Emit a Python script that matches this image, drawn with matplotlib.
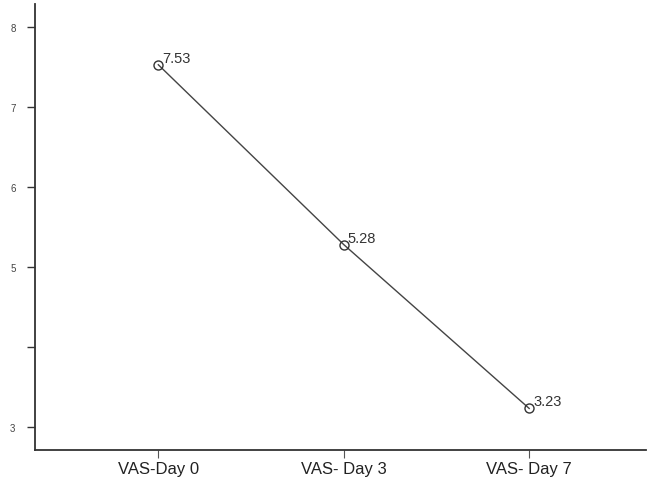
import matplotlib
matplotlib.use("Agg")
import matplotlib.pyplot as plt

categories = ["VAS-Day 0", "VAS- Day 3", "VAS- Day 7"]
values = [7.53, 5.28, 3.23]
value_labels = ["7.53", "5.28", "3.23"]
ytick_vals = [3, 4, 5, 6, 7, 8]
ytick_labels = ["3", "", "5", "6", "7", "8"]

plt.rcParams['font.family'] = ['Liberation Sans', 'DejaVu Sans']
fig = plt.figure(figsize=(6.49, 4.81), dpi=100)
ax = fig.add_axes([35/649, 1-451/481, (646-35)/649, (451-5)/481])
x = list(range(len(categories)))
ax.plot(x, values, color='#444444', lw=1.0, marker='o', ms=6.5, mfc='none', mec='#333333', mew=1.0)
for xi, v, lab in zip(x, values, value_labels):
    ax.annotate(lab, (xi, v), xytext=(3, 0), textcoords='offset points', fontsize=10.5, color='#333333', va='bottom', ha='left')
ax.set_xlim(-0.665, 2.63)
ax.set_ylim(2.71, 8.29)
ax.set_xticks(x)
ax.set_xticklabels(categories, fontsize=12, color='#222222')
ax.set_yticks(ytick_vals)
ax.set_yticklabels(ytick_labels, fontsize=7, color='#444444')
for s in ['top', 'right']:
    ax.spines[s].set_visible(False)
for s in ['left', 'bottom']:
    ax.spines[s].set_linewidth(1.3)
    ax.spines[s].set_color('#333333')
ax.tick_params(axis='y', length=6, width=1.0, color='#333333', pad=8)
ax.tick_params(axis='x', length=6, width=0.8, color='#555555', pad=2)
fig.savefig('out.png', dpi=100)
